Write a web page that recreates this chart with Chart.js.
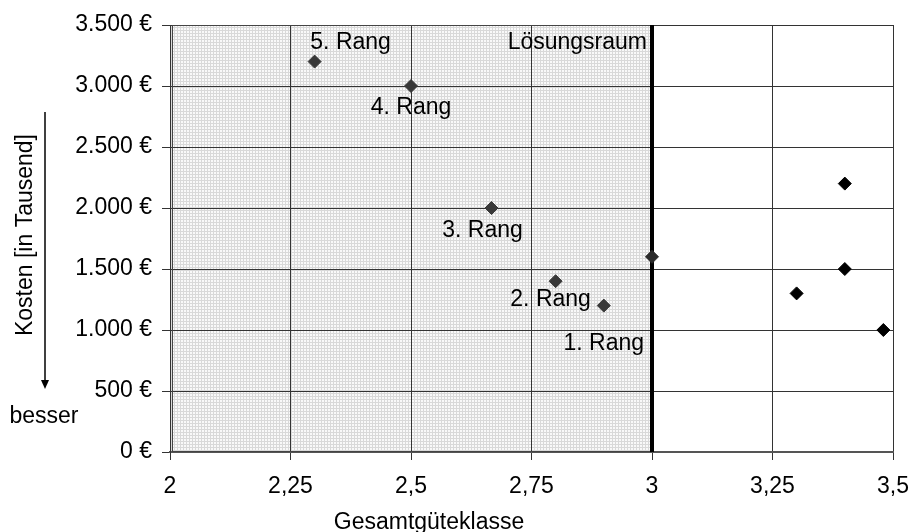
<!DOCTYPE html>
<html>
<head>
<meta charset="utf-8">
<script src="https://cdn.jsdelivr.net/npm/chart.js@4"></script>
<style>
  body { margin: 0; background: #fff; }
  #wrap { width: 910px; height: 532px; }
</style>
</head>
<body>
<div id="wrap"><canvas id="myChart" width="910" height="532"></canvas></div>
<script>
// ranked solutions inside the solution space
const rangX = [2.9, 2.8, 2.667, 2.5, 2.3];
const rangY = [1200, 1400, 2000, 3000, 3200];
const rangLabels = ['1. Rang', '2. Rang', '3. Rang', '4. Rang', '5. Rang'];

// point sitting on the border of the solution space
const borderX = [3.0];
const borderY = [1600];

// remaining solutions outside
const otherX = [3.4, 3.4, 3.3, 3.48];
const otherY = [2200, 1500, 1300, 1000];

const xTicks = [2, 2.25, 2.5, 2.75, 3, 3.25, 3.5];
const xTickLabels = ['2', '2,25', '2,5', '2,75', '3', '3,25', '3,5'];
const yTicks = [0, 500, 1000, 1500, 2000, 2500, 3000, 3500];
const yTickLabels = ['0 €', '500 €', '1.000 €', '1.500 €', '2.000 €', '2.500 €', '3.000 €', '3.500 €'];

const spaceFrom = 2;
const spaceTo = 3;
const spaceLabel = 'Lösungsraum';
const xTitle = 'Gesamtgüteklasse';
const yTitle = 'Kosten [in Tausend]';
const yHint = 'besser';

const FONT = '23px "Liberation Sans", Arial, sans-serif';

const toPoints = (xs, ys) => xs.map((x, i) => ({ x: x, y: ys[i] }));

// little grey grid used as fill of the solution space
const makePattern = ctx => {
  const c = document.createElement('canvas');
  c.width = 3; c.height = 3;
  const p = c.getContext('2d');
  p.fillStyle = '#f9f9f9';
  p.fillRect(0, 0, 3, 3);
  p.fillStyle = '#d9d9d9';
  p.fillRect(0, 0, 3, 1);
  p.fillRect(0, 0, 1, 3);
  return ctx.createPattern(c, 'repeat');
};

// label offsets (px) relative to each ranked point, baseline alignment
const labelOffsets = [[0, 44], [-5, 25], [-9, 29], [0, 28], [36, -13]];

const decorations = {
  id: 'decorations',
  beforeDraw(chart) {
    const { ctx, chartArea, scales } = chart;
    const x0 = scales.x.getPixelForValue(spaceFrom);
    const x1 = scales.x.getPixelForValue(spaceTo);
    ctx.save();
    ctx.fillStyle = makePattern(ctx);
    ctx.fillRect(x0, chartArea.top, x1 - x0, chartArea.bottom - chartArea.top);
    ctx.restore();
  },
  beforeDatasetsDraw(chart) {
    const { ctx, chartArea, scales } = chart;
    const x0 = scales.x.getPixelForValue(spaceFrom);
    const x1 = scales.x.getPixelForValue(spaceTo);
    ctx.save();
    ctx.strokeStyle = '#444';
    ctx.lineWidth = 1;
    ctx.strokeRect(x0 + 2.5, chartArea.top + 0.5, x1 - x0 - 2, chartArea.bottom - chartArea.top - 1);
    ctx.strokeStyle = '#000';
    ctx.lineWidth = 4;
    ctx.beginPath();
    ctx.moveTo(x1, chartArea.top);
    ctx.lineTo(x1, chartArea.bottom);
    ctx.stroke();
    ctx.restore();
  },
  afterDatasetsDraw(chart) {
    const { ctx, chartArea, scales } = chart;
    ctx.save();
    ctx.font = FONT;
    ctx.fillStyle = '#000';
    ctx.textBaseline = 'alphabetic';
    ctx.textAlign = 'center';
    rangLabels.forEach((lbl, i) => {
      const px = scales.x.getPixelForValue(rangX[i]);
      const py = scales.y.getPixelForValue(rangY[i]);
      ctx.fillText(lbl, px + labelOffsets[i][0], py + labelOffsets[i][1]);
    });
    ctx.textAlign = 'right';
    ctx.fillText(spaceLabel, scales.x.getPixelForValue(spaceTo) - 5, chartArea.top + 24);

    // axis titles
    ctx.textAlign = 'center';
    ctx.fillText(xTitle, 429, 529);
    ctx.fillText(yHint, 44, 423);
    ctx.save();
    ctx.translate(32, 235);
    ctx.rotate(-Math.PI / 2);
    ctx.fillText(yTitle, 0, 0);
    ctx.restore();

    // arrow pointing to lower costs
    ctx.strokeStyle = '#000';
    ctx.lineWidth = 1.5;
    ctx.beginPath();
    ctx.moveTo(45, 112);
    ctx.lineTo(45, 382);
    ctx.stroke();
    ctx.fillStyle = '#000';
    ctx.beginPath();
    ctx.moveTo(41, 380);
    ctx.lineTo(49, 380);
    ctx.lineTo(45, 389);
    ctx.closePath();
    ctx.fill();
    ctx.restore();
  }
};

const ctx = document.getElementById('myChart');

new Chart(ctx, {
  type: 'scatter',
  data: {
    datasets: [
      {
        label: 'Rang',
        data: toPoints(rangX, rangY),
        pointStyle: 'rectRot',
        pointRadius: 6.5,
        borderWidth: 1,
        backgroundColor: '#383838',
        borderColor: '#383838'
      },
      {
        label: 'Grenze',
        data: toPoints(borderX, borderY),
        pointStyle: 'rectRot',
        pointRadius: 6.5,
        borderWidth: 1,
        backgroundColor: '#2a2a2a',
        borderColor: '#2a2a2a'
      },
      {
        label: 'Andere',
        data: toPoints(otherX, otherY),
        pointStyle: 'rectRot',
        pointRadius: 6.5,
        borderWidth: 1,
        backgroundColor: '#000',
        borderColor: '#000'
      }
    ]
  },
  options: {
    responsive: false,
    animation: false,
    events: [],
    layout: { padding: { top: 25, right: 17, left: 0, bottom: 0 } },
    plugins: {
      legend: { display: false },
      tooltip: { enabled: false }
    },
    scales: {
      x: {
        type: 'linear',
        min: 2,
        max: 3.5,
        afterBuildTicks: scale => { scale.ticks = xTicks.map(v => ({ value: v })); },
        afterFit: scale => {
          scale.height = 80;
          scale.paddingLeft = 0;
          scale.paddingRight = 0;
        },
        ticks: {
          color: '#000',
          font: { family: '"Liberation Sans", Arial, sans-serif', size: 23 },
          padding: 13,
          maxRotation: 0,
          autoSkip: false,
          callback: (v, i) => xTickLabels[i]
        },
        grid: { color: '#333', lineWidth: 1, tickLength: 8, tickColor: '#333' },
        border: { color: '#555', width: 2 }
      },
      y: {
        min: 0,
        max: 3500,
        afterBuildTicks: scale => { scale.ticks = yTicks.map(v => ({ value: v })); },
        afterFit: scale => {
          scale.width = 170;
          scale.paddingTop = 0;
          scale.paddingBottom = 0;
        },
        ticks: {
          color: '#000',
          font: { family: '"Liberation Sans", Arial, sans-serif', size: 23 },
          padding: 10,
          autoSkip: false,
          callback: (v, i) => yTickLabels[i]
        },
        grid: { color: '#333', lineWidth: 1, tickLength: 8, tickColor: '#333' },
        border: { color: '#333', width: 1 }
      }
    }
  },
  plugins: [decorations]
});
</script>
</body>
</html>
